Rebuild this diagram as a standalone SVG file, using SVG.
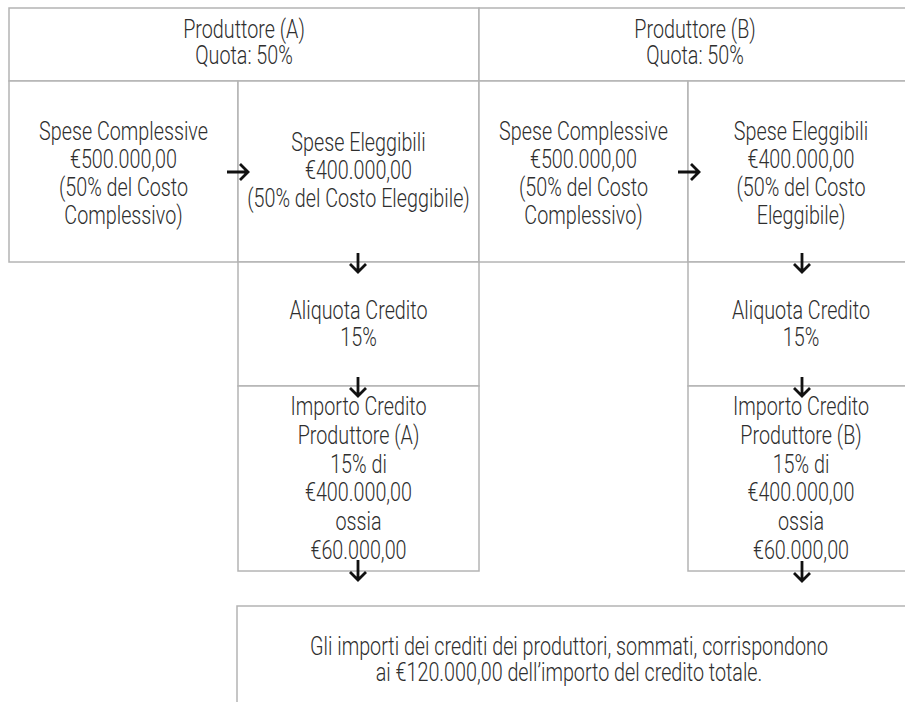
<svg xmlns="http://www.w3.org/2000/svg" width="905" height="702" viewBox="0 0 905 702">
  <style>
    .box { fill: #ffffff; stroke: #b4b4b4; stroke-width: 1.5; }
    .lbl { font-family: Roboto, "Liberation Sans", sans-serif; font-weight: 300; font-size: 25px; fill: #2e2e2e; text-anchor: middle; }
    .arw { fill: none; stroke: #111111; stroke-width: 2.8; stroke-linecap: butt; stroke-linejoin: miter; }
  </style>
  <rect width="905" height="702" fill="#ffffff"/>

  <!-- producer A header -->
  <g id="header-a">
    <rect class="box" x="9" y="8" width="470" height="73"/>
    <text class="lbl" transform="translate(244 38) scale(0.79 1)">Produttore (A)</text>
    <text class="lbl" transform="translate(244 64) scale(0.79 1)">Quota: 50%</text>
  </g>

  <!-- producer B header -->
  <g id="header-b">
    <rect class="box" x="479" y="8" width="440" height="73"/>
    <text class="lbl" transform="translate(695 38) scale(0.79 1)">Produttore (B)</text>
    <text class="lbl" transform="translate(695 64) scale(0.79 1)">Quota: 50%</text>
  </g>

  <g id="spese-complessive-a">
    <rect class="box" x="9" y="81" width="229" height="181"/>
    <text class="lbl" transform="translate(123.5 140) scale(0.79 1)">Spese Complessive</text>
    <text class="lbl" transform="translate(123.5 168) scale(0.79 1)">€500.000,00</text>
    <text class="lbl" transform="translate(123.5 196) scale(0.79 1)">(50% del Costo</text>
    <text class="lbl" transform="translate(123.5 224) scale(0.79 1)">Complessivo)</text>
  </g>

  <g id="spese-eleggibili-a">
    <rect class="box" x="238" y="81" width="241" height="181"/>
    <text class="lbl" transform="translate(358.5 151) scale(0.79 1)">Spese Eleggibili</text>
    <text class="lbl" transform="translate(358.5 179) scale(0.79 1)">€400.000,00</text>
    <text class="lbl" transform="translate(358.5 207) scale(0.79 1)">(50% del Costo Eleggibile)</text>
  </g>

  <g id="spese-complessive-b">
    <rect class="box" x="479" y="81" width="209" height="181"/>
    <text class="lbl" transform="translate(583.5 140) scale(0.79 1)">Spese Complessive</text>
    <text class="lbl" transform="translate(583.5 168) scale(0.79 1)">€500.000,00</text>
    <text class="lbl" transform="translate(583.5 196) scale(0.79 1)">(50% del Costo</text>
    <text class="lbl" transform="translate(583.5 224) scale(0.79 1)">Complessivo)</text>
  </g>

  <g id="spese-eleggibili-b">
    <rect class="box" x="688" y="81" width="231" height="181"/>
    <text class="lbl" transform="translate(801 140) scale(0.79 1)">Spese Eleggibili</text>
    <text class="lbl" transform="translate(801 168) scale(0.79 1)">€400.000,00</text>
    <text class="lbl" transform="translate(801 196) scale(0.79 1)">(50% del Costo</text>
    <text class="lbl" transform="translate(801 224) scale(0.79 1)">Eleggibile)</text>
  </g>

  <g id="aliquota-a">
    <rect class="box" x="238" y="262" width="241" height="124"/>
    <text class="lbl" transform="translate(358.5 319) scale(0.79 1)">Aliquota Credito</text>
    <text class="lbl" transform="translate(358.5 346) scale(0.79 1)">15%</text>
  </g>

  <g id="aliquota-b">
    <rect class="box" x="688" y="262" width="231" height="124"/>
    <text class="lbl" transform="translate(801 319) scale(0.79 1)">Aliquota Credito</text>
    <text class="lbl" transform="translate(801 346) scale(0.79 1)">15%</text>
  </g>

  <g id="importo-a">
    <rect class="box" x="238" y="386" width="241" height="185"/>
    <text class="lbl" transform="translate(358.5 415) scale(0.79 1)">Importo Credito</text>
    <text class="lbl" transform="translate(358.5 443.8) scale(0.79 1)">Produttore (A)</text>
    <text class="lbl" transform="translate(358.5 472.6) scale(0.79 1)">15% di</text>
    <text class="lbl" transform="translate(358.5 501.4) scale(0.79 1)">€400.000,00</text>
    <text class="lbl" transform="translate(358.5 530.2) scale(0.79 1)">ossia</text>
    <text class="lbl" transform="translate(358.5 559) scale(0.79 1)">€60.000,00</text>
  </g>

  <g id="importo-b">
    <rect class="box" x="688" y="386" width="231" height="185"/>
    <text class="lbl" transform="translate(801 415) scale(0.79 1)">Importo Credito</text>
    <text class="lbl" transform="translate(801 443.8) scale(0.79 1)">Produttore (B)</text>
    <text class="lbl" transform="translate(801 472.6) scale(0.79 1)">15% di</text>
    <text class="lbl" transform="translate(801 501.4) scale(0.79 1)">€400.000,00</text>
    <text class="lbl" transform="translate(801 530.2) scale(0.79 1)">ossia</text>
    <text class="lbl" transform="translate(801 559) scale(0.79 1)">€60.000,00</text>
  </g>

  <g id="credito-totale">
    <rect class="box" x="237" y="606" width="690" height="120"/>
    <text class="lbl" transform="translate(569 655) scale(0.79 1)">Gli importi dei crediti dei produttori, sommati, corrispondono</text>
    <text class="lbl" transform="translate(569 681) scale(0.79 1)">ai €120.000,00 dell’importo del credito totale.</text>
  </g>

  <!-- connectors: stems with open chevron heads -->
  <g id="connectors" class="arw">
    <path d="M227 172 H248 M240 164 L248 172 L240 180"/>
    <path d="M678 172 H699 M691 164 L699 172 L691 180"/>
    <path d="M358 253 V272 M350 264 L358 272 L366 264"/>
    <path d="M358 377 V396 M350 388 L358 396 L366 388"/>
    <path d="M358 560 V580 M350 572 L358 580 L366 572"/>
    <path d="M802 253 V272 M794 264 L802 272 L810 264"/>
    <path d="M802 377 V396 M794 388 L802 396 L810 388"/>
    <path d="M802 561 V581 M794 573 L802 581 L810 573"/>
  </g>
</svg>
